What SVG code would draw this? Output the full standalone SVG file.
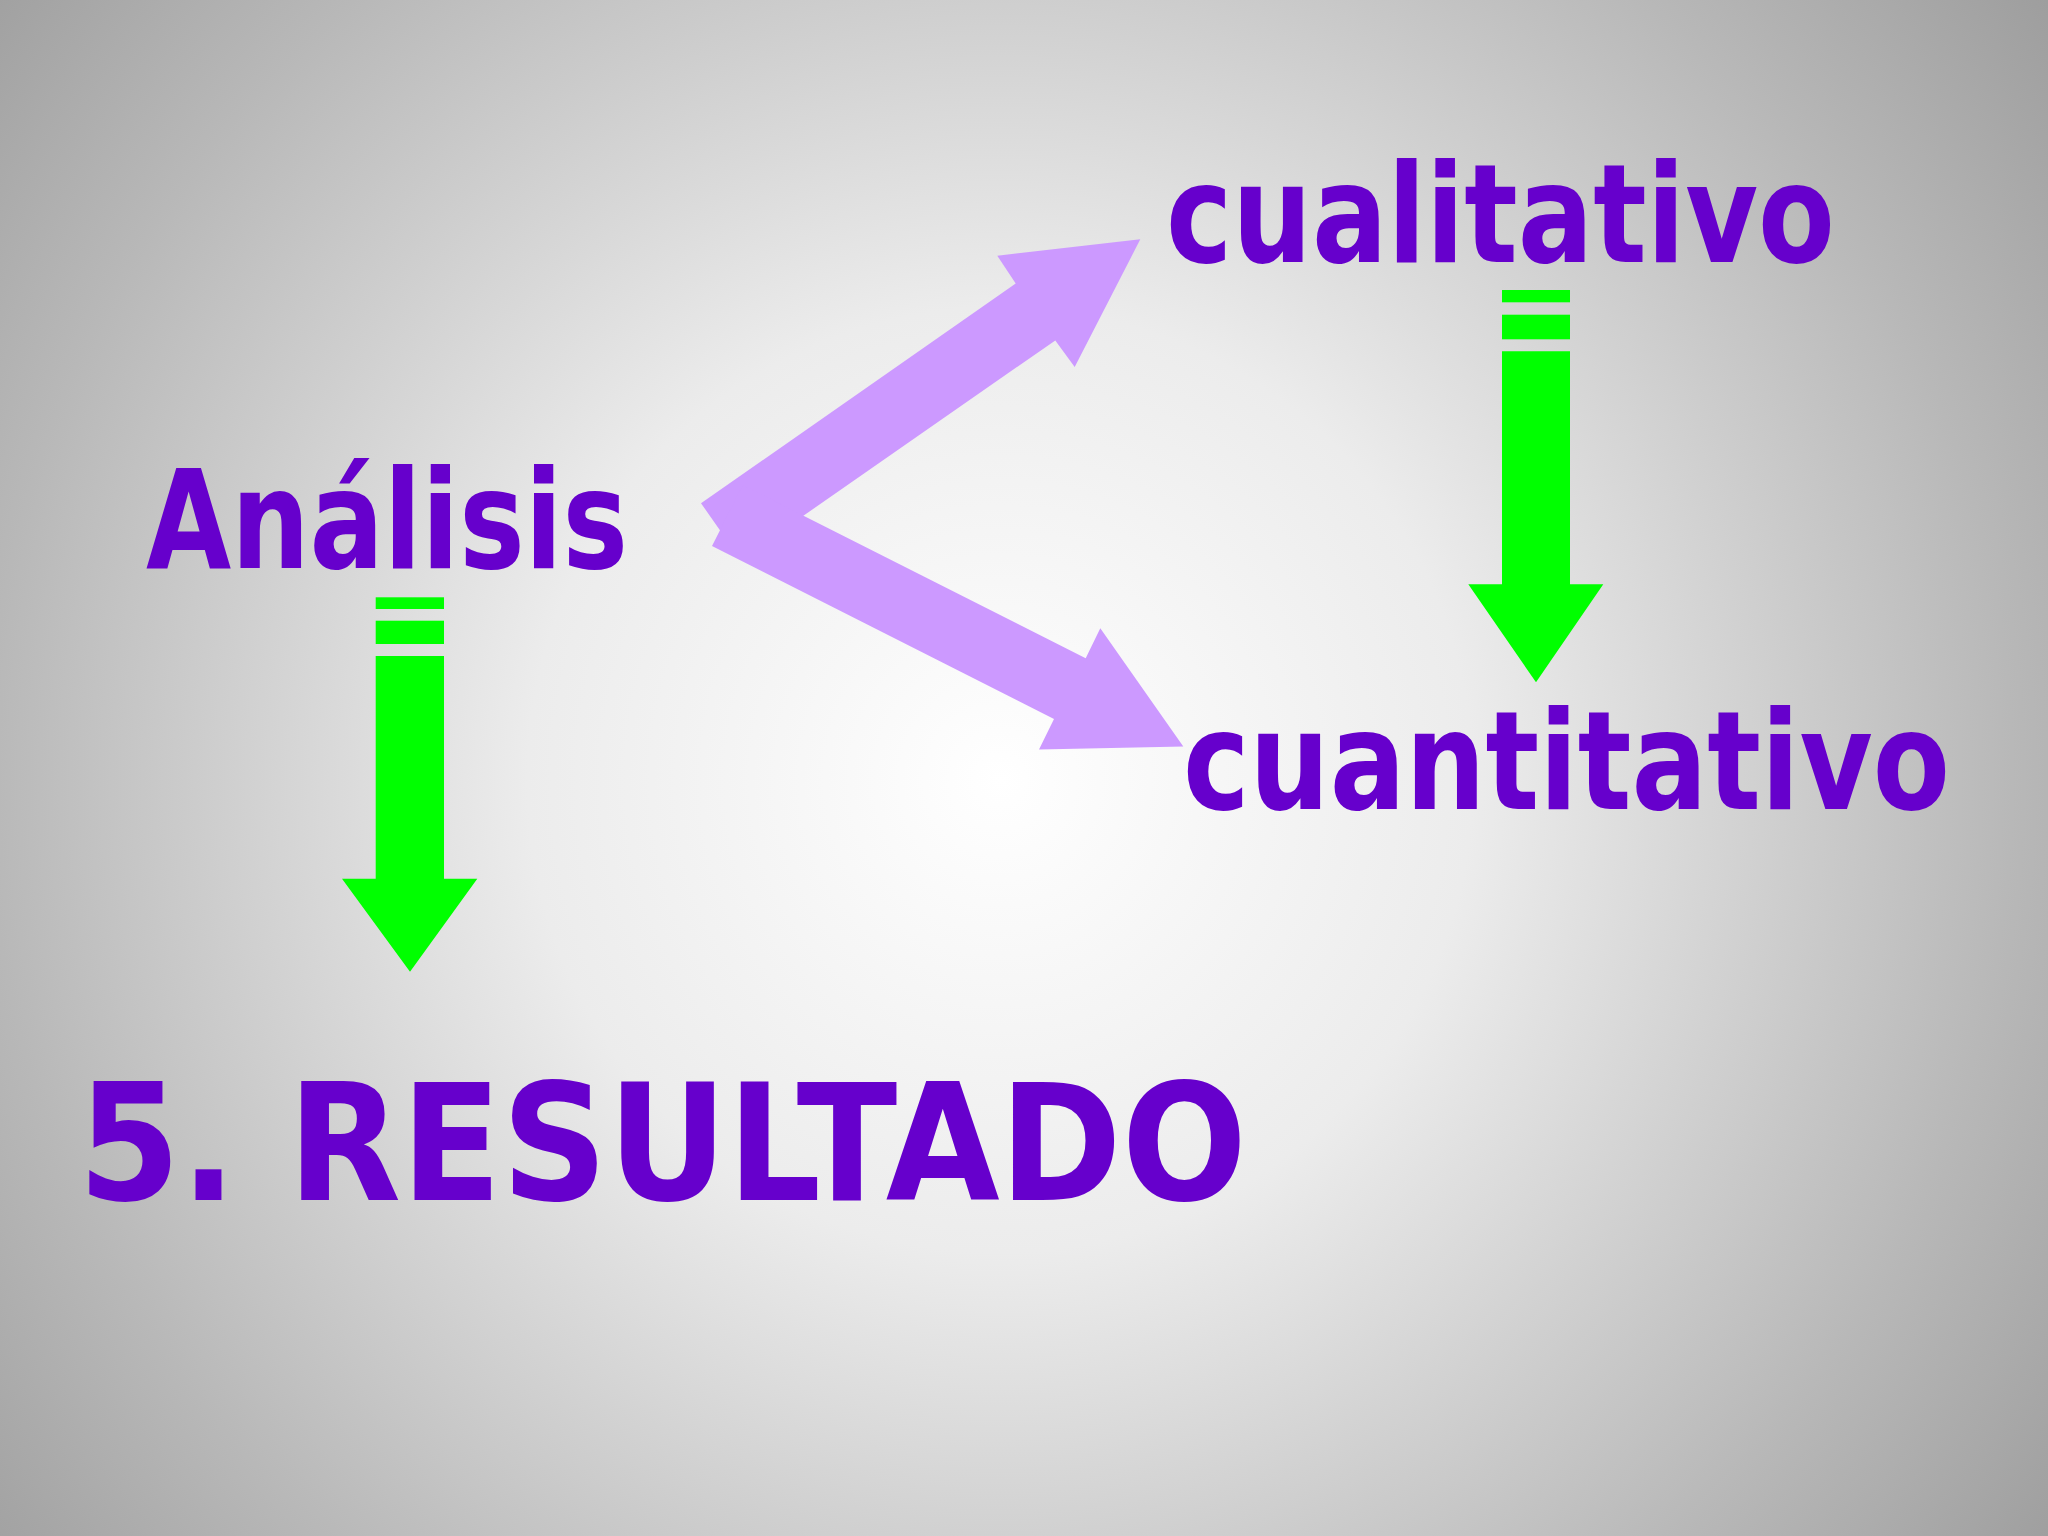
<svg xmlns="http://www.w3.org/2000/svg" width="2048" height="1536" viewBox="0 0 2048 1536">
<defs>
<radialGradient id="bg" gradientUnits="userSpaceOnUse" cx="1000" cy="780" r="1350">
<stop offset="0" stop-color="#ffffff"/>
<stop offset="0.35" stop-color="#ececec"/>
<stop offset="0.75" stop-color="#b8b8b8"/>
<stop offset="1" stop-color="#9a9a9a"/>
</radialGradient>
<style>
.t{font-family:"Comic Sans MS","DejaVu Sans","Liberation Sans",sans-serif;font-weight:bold;fill:#6600CC;}
.g{fill:#00FF00;}
.p{fill:#CC99FF;}
</style>
</defs>
<rect width="2048" height="1536" fill="url(#bg)"/>
<g id="connectors">
<g id="arrow-analisis-cualitativo"><polygon class="p" points="701,503.2 1015.7,283.6 997.3,255.7 1140.3,239.3 1074.7,367.1 1055.3,340.4 740.4,559.6"/></g>
<g id="arrow-analisis-cuantitativo"><polygon class="p" points="742.8,485.1 1085.7,658.2 1100.3,628.2 1183.3,746.4 1039,749.6 1054,718.9 712,546.1"/></g>
<g id="arrow-cualitativo-cuantitativo">
<rect class="g" x="1502" y="290" width="68" height="12.3"/>
<rect class="g" x="1502" y="314.7" width="68" height="24.6"/>
<polygon class="g" points="1502,351.3 1570,351.3 1570,584.3 1603.3,584.3 1536,682.3 1468.3,584.3 1502,584.3"/>
</g>
<g id="arrow-analisis-resultado">
<rect class="g" x="375.7" y="597.3" width="68.3" height="11.7"/>
<rect class="g" x="375.7" y="620.7" width="68.3" height="23.3"/>
<polygon class="g" points="375.7,656 444,656 444,878.7 477.3,878.7 410,971.7 342,878.7 375.7,878.7"/>
</g>
</g>
<g id="node-analisis"><text class="t" x="146" y="568" font-size="138" textLength="482" lengthAdjust="spacingAndGlyphs">Análisis</text></g>
<g id="node-cualitativo"><text class="t" x="1166" y="262" font-size="138" textLength="669" lengthAdjust="spacingAndGlyphs">cualitativo</text></g>
<g id="node-cuantitativo"><text class="t" x="1183" y="809" font-size="138" textLength="767" lengthAdjust="spacingAndGlyphs">cuantitativo</text></g>
<g id="node-resultado"><text class="t" x="78" y="1200" font-size="162" textLength="1169" lengthAdjust="spacingAndGlyphs">5. RESULTADO</text></g>
</svg>
